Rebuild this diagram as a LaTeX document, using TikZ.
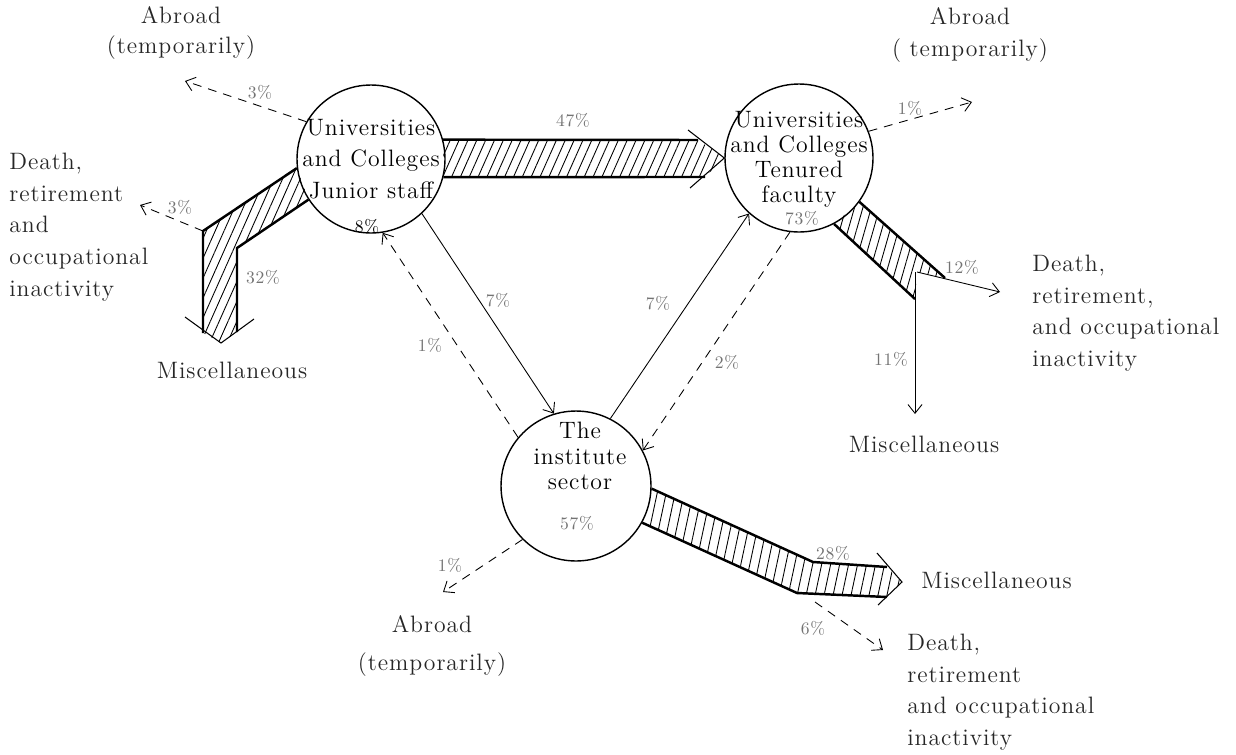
\documentclass[tikz,border=0pt]{standalone}
\usepackage{fontspec}
\setmainfont{Latin Modern Roman}[LetterSpace=4]
\usetikzlibrary{arrows.meta,patterns.meta}
\begin{document}
\begin{tikzpicture}[x=0.02cm,y=-0.02cm]
    % --- styles ---
    \tikzset{
      unit/.style={circle,draw,line width=0.8pt,minimum size=2.96cm,inner sep=0pt},
      unitname/.style={align=center,inner sep=0pt,font=\fontsize{13.5}{14.5}\selectfont},
      place/.style={align=left,inner sep=0pt,text=black!85,font=\fontsize{13.5}{18}\selectfont},
      pct/.style={inner sep=1pt,text=black!55,font=\fontsize{10}{12}\selectfont},
      flow/.style={line width=0.5pt,-{Straight Barb[length=5pt,width=8pt]}},
      leak/.style={flow,dash pattern=on 5pt off 4pt},
      bandedge/.style={line width=1.4pt},
      barb/.style={line width=0.6pt},
    }
    \useasboundingbox (0,0) rectangle (1236,754);

    % the three sectors
    \node[unit] (jun) at (371,159) {};
    \node[unit] (ten) at (799,158) {};
    \node[unit,minimum size=3cm] (inst) at (576,486) {};
    \node[unitname,font=\fontsize{13.5}{18}\selectfont] (juntxt) at (jun.center)
      {Universities\\and Colleges\\Junior staff};
    \node[unitname,font=\fontsize{13.5}{14.2}\selectfont] (tentxt) at (799,159)
      {Universities\\and Colleges\\Tenured\\faculty};
    \node[unitname,font=\fontsize{13.5}{14.7}\selectfont] (insttxt) at (580,456)
      {The\\institute\\sector};
    \node[pct,text=black] (junstay) at (367,226) {8\%};
    \node[pct] (tenstay) at (802,218) {73\%};
    \node[pct] (inststay) at (577,523) {57\%};

    % outside destinations
    \node[place,align=center,font=\fontsize{13.5}{17}\selectfont] (abrJ) at (181,33) {Abroad\\(temporarily)};
    \node[place,anchor=west] (deathJ) at (9,227) {Death,\\retirement\\and\\occupational\\inactivity};
    \node[place] (miscJ) at (232,370) {Miscellaneous};
    \node[place,align=center] (abrT) at (970,35) {Abroad\\( temporarily)};
    \node[place,anchor=west] (deathT) at (1032,313) {Death,\\retirement,\\and occupational\\inactivity};
    \node[place] (miscT) at (924,444) {Miscellaneous};
    \node[place,align=center,font=\fontsize{13.5}{21.5}\selectfont] (abrI) at (432,646) {Abroad\\(temporarily)};
    \node[place,anchor=west] (miscI) at (921,580) {Miscellaneous};
    \node[place,anchor=west] (deathI) at (907,692) {Death,\\retirement\\and occupational\\inactivity};

    % free ends of the arrows
    \coordinate (junbend) at (203,231);
    \coordinate (abrJend) at (185,81);
    \coordinate (deathJend) at (140,205);
    \coordinate (tenfork) at (917,272);
    \coordinate (deathTend) at (1000,292);
    \coordinate (miscTend) at (915,414);
    \coordinate (abrTend) at (972,102);
    \coordinate (instfork) at (815,602);
    \coordinate (deathIend) at (883,650);
    \coordinate (abrIend) at (443,592);

    % 47% band, junior staff -> tenured faculty
    \fill[pattern={Lines[angle=66,distance=4.6pt,line width=0.5pt]}]
      (jun.15) -- (698,140) -- (ten.180) -- (705,177) -- (jun.-14) -- cycle;
    \draw[bandedge] (jun.15) -- (698,140);
    \draw[bandedge] (jun.-14) -- (705,177);
    \draw[barb] (688,130) -- (ten.180) -- (690,188);
    \node[pct] (p47) at (573,120) {47\%};

    % 32% band, junior staff -> miscellaneous
    \fill[pattern={Lines[angle=66,distance=4.6pt,line width=0.5pt]}]
      (jun.187) -- (junbend) -- (203,333) -- (221,343) -- (237,332) -- (237,248) -- (jun.213) -- cycle;
    \draw[bandedge] (jun.187) -- (junbend) -- (203,333);
    \draw[bandedge] (jun.213) -- (237,248) -- (237,332);
    \draw[barb] (185,317) -- (221,343) -- (254,319);
    \node[pct] (p32) at (263,277) {32\%};

    % band out of tenured faculty, split 12% / 11%
    \fill[pattern={Lines[angle=74,distance=4.6pt,line width=0.5pt]}]
      (ten.-36) -- (945,278) -- (tenfork) -- (915,299) -- (ten.-62) -- cycle;
    \draw[bandedge] (ten.-36) -- (945,278);
    \draw[bandedge] (ten.-62) -- (915,299);
    \draw[flow] (tenfork) -- (deathTend);
    \draw[flow] (915,272) -- (miscTend);
    \node[pct] (p12) at (962,267) {12\%};
    \node[pct] (p11) at (891,359) {11\%};

    % 28% band, institute sector -> miscellaneous
    \fill[pattern={Lines[angle=78,distance=5pt,line width=0.5pt]}]
      (inst.-2) -- (813,562) -- (887,567) -- (902,582) -- (887,597) -- (797,593) -- (inst.-29) -- cycle;
    \draw[bandedge] (inst.-2) -- (813,562) -- (887,567);
    \draw[bandedge] (inst.-29) -- (797,593) -- (887,597);
    \draw[barb] (877,553) -- (902,582) -- (878,605);
    \node[pct] (p28) at (833,553) {28\%};

    % thin flows between the sectors
    \draw[flow] (jun.-47) -- (inst.107);
    \draw[leak] (inst.140) -- (jun.-81);
    \draw[flow] (inst.63) -- (ten.-132);
    \draw[leak] (ten.-97) -- (inst.28);
    \node[pct] (p7a) at (498,300) {7\%};
    \node[pct] (p1a) at (430,345) {1\%};
    \node[pct] (p7b) at (658,303) {7\%};
    \node[pct] (p2) at (727,362) {2\%};

    % small leaks to the outside
    \draw[leak] (jun.150) -- (abrJend);
    \draw[leak] (junbend) -- (deathJend);
    \draw[leak] (ten.21) -- (abrTend);
    \draw[leak] (instfork) -- (deathIend);
    \draw[leak] (inst.-135) -- (abrIend);
    \node[pct] (p3a) at (260,92) {3\%};
    \node[pct] (p3b) at (180,207) {3\%};
    \node[pct] (p1b) at (910,108) {1\%};
    \node[pct] (p6) at (813,628) {6\%};
    \node[pct] (p1c) at (450,565) {1\%};
\end{tikzpicture}
\end{document}
